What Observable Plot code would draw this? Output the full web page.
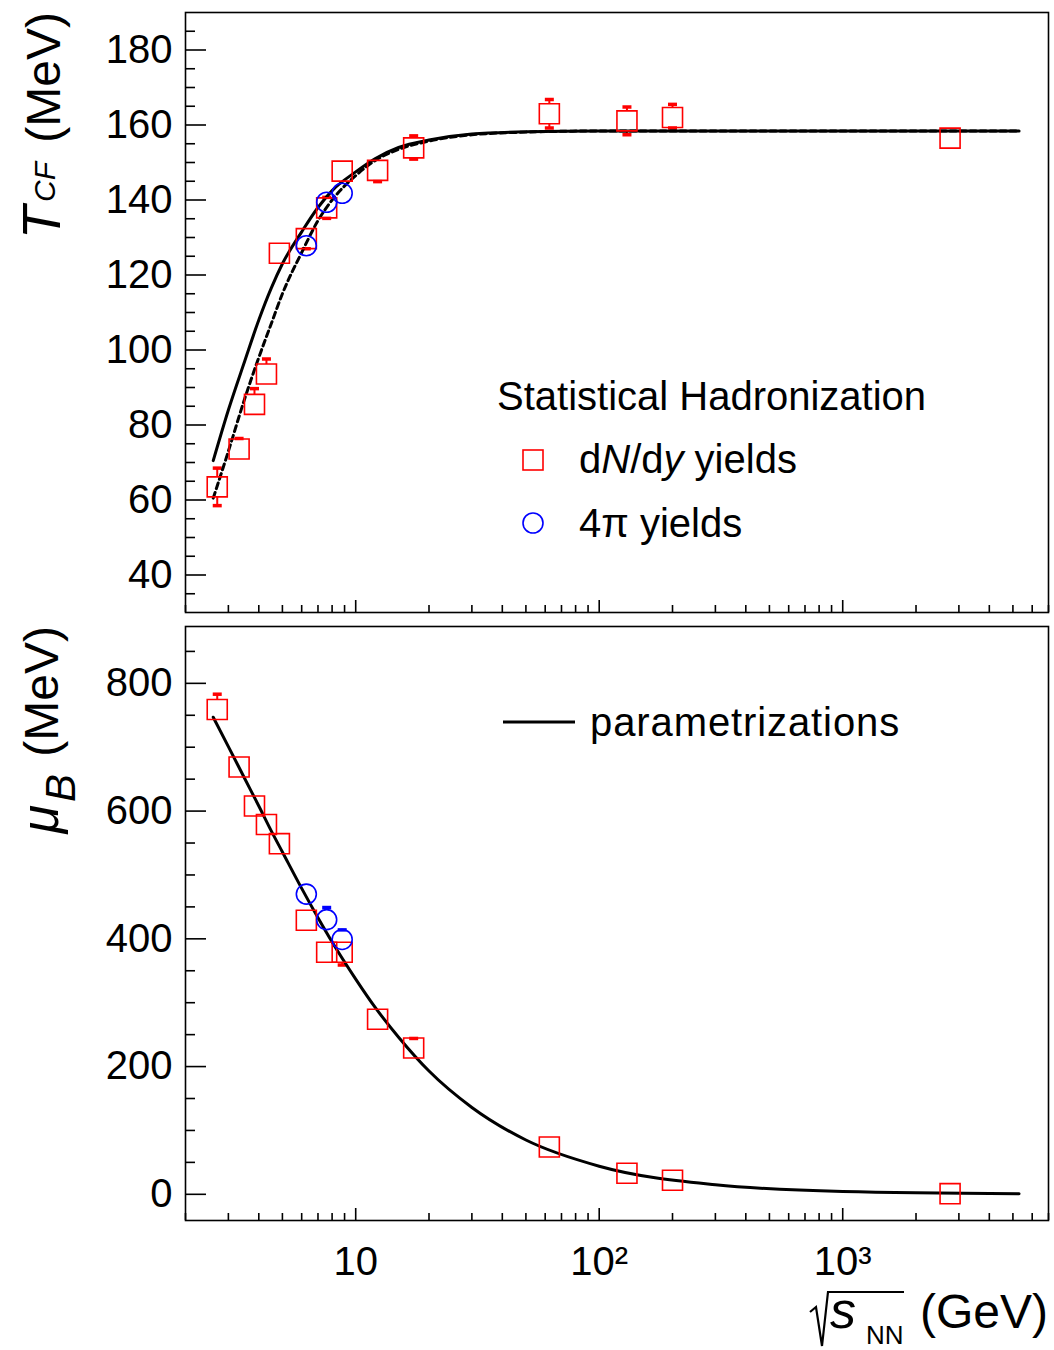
<!DOCTYPE html>
<html><head><meta charset="utf-8">
<script src="https://cdn.jsdelivr.net/npm/d3@7"></script>
<script src="https://cdn.jsdelivr.net/npm/@observablehq/plot@0.6"></script>
<style>
body{margin:0;background:#fff;}
#chart{position:relative;width:1054px;height:1350px;background:#fff;}
#chart svg{position:absolute;left:0;overflow:visible;}
</style></head><body><div id="chart"></div>
<script>
// ---------- data ----------
const sqrtsDNdy = [2.7, 3.32, 3.84, 4.3, 4.86, 6.27, 7.6, 8.8, 12.3, 17.3, 62.4, 130, 200, 2760];
const tDNdy     = [63.5, 73.6, 85.5, 93.6, 125.8, 129.7, 137.9, 147.7, 147.9, 153.9, 163, 161.1, 162, 156.5];
const tDNdyLo   = [5, 0, 0, 0, 0, 2.7, 2.8, 0, 3, 3, 3.8, 3.7, 2.8, 0];
const tDNdyHi   = [5, 2.8, 4.2, 4, 0, 0, 2.8, 0, 0, 3.2, 3.8, 3.7, 3.5, 0];
const muDNdy    = [759, 669, 608, 579, 549, 429, 379, 379, 274, 229, 74, 33, 22, 1];
const muDNdyLo  = [0, 0, 0, 0, 0, 0, 0, 20, 0, 0, 0, 0, 0, 0];
const muDNdyHi  = [24, 0, 0, 0, 0, 0, 0, 0, 0, 15, 0, 0, 0, 0];

const sqrts4pi = [6.27, 7.6, 8.8];
const t4pi     = [127.8, 139.4, 141.8];
const mu4pi    = [470, 430, 399];
const mu4piLo  = [0, 0, 0];
const mu4piHi  = [0, 19, 15];

// parametrization curves
const fitX    = [2.6, 3, 3.5, 4, 4.5, 5, 6, 7, 8, 10, 12, 15, 20, 30, 50, 100, 300, 1000, 5300];
const tSolid  = [70.5, 84, 97, 108, 116.5, 123, 131.5, 138, 142.5, 147.5, 151, 154, 156, 157.6, 158.2, 158.4, 158.4, 158.4, 158.4];
const tDashed = [60.5, 73, 87, 98, 107, 115, 126, 134.5, 140, 146.5, 150.5, 153.5, 155.7, 157.4, 158.1, 158.4, 158.4, 158.4, 158.4];
const muFit   = [747, 701, 651, 608, 569, 536, 479, 433, 395, 337, 293, 246, 193, 136, 85, 44, 15, 4.5, 0.9];

// axes
const xDomain = [2, 7000];
const xMajor = [10, 100, 1000];
const xTickLabels = ["10", "10\u00B2", "10\u00B3"];
const xMinor = [2,3,4,5,6,7,8,9,20,30,40,50,60,70,80,90,200,300,400,500,600,700,800,900,2000,3000,4000,5000,6000,7000];
const tDomain = [30, 190];
const tMajor = [40, 60, 80, 100, 120, 140, 160, 180];
const tMinor = [35, 45, 50, 55, 65, 70, 75, 85, 90, 95, 105, 110, 115, 125, 130, 135, 145, 150, 155, 165, 170, 175, 185];
const muDomain = [-41, 889];
const muMajor = [0, 200, 400, 600, 800];
const muMinor = [50, 100, 150, 250, 300, 350, 450, 500, 550, 650, 700, 750, 850];

// ---------- helpers ----------
const FONT = "'Liberation Sans', Arial, Helvetica, sans-serif";
const RED = "#ff0000", BLUE = "#0000ff";
const capSymbol = {draw(ctx) { ctx.rect(-4.5, -1.75, 9, 3.5); }};
const rows = (xs, ys, lo, hi) => xs.map((x, i) => ({x, y: ys[i], lo: lo ? lo[i] : 0, hi: hi ? hi[i] : 0}));
const bars = r => r.filter(d => d.lo > 0 || d.hi > 0).map(d => ({x: d.x, y1: d.y - d.lo, y2: d.y + d.hi}));
const caps = r => r.flatMap(d => [...(d.hi > 0 ? [{x: d.x, y: d.y + d.hi}] : []), ...(d.lo > 0 ? [{x: d.x, y: d.y - d.lo}] : [])]);
const xLabelMap = new Map(xMajor.map((v, i) => [v, xTickLabels[i]]));

function frameAxes(yMajor, yMinor, withXLabels) {
  return [
    Plot.axisY({ticks: yMajor, tickSize: 21, dx: 21, fill: "none", label: null, strokeWidth: 1.6}),
    Plot.axisY({ticks: yMinor, tickSize: 10, dx: 10, fill: "none", label: null, strokeWidth: 1.6}),
    Plot.axisY({ticks: yMajor, tickSize: 0, tickPadding: 13, stroke: "none", label: null, fontSize: 40}),
    Plot.axisX({ticks: xMajor, tickSize: 12, dy: -12, fill: "none", label: null, strokeWidth: 1.6}),
    Plot.axisX({ticks: xMinor, tickSize: 7, dy: -7, fill: "none", label: null, strokeWidth: 1.6}),
    withXLabels ? Plot.axisX({ticks: xMajor, tickSize: 0, tickPadding: 26, stroke: "none", label: null, fontSize: 40, tickFormat: d => xLabelMap.get(d)}) : null,
    Plot.frame({stroke: "black", strokeWidth: 1.6})
  ];
}

function dataMarks(sq, ci, curves) {
  return [
    Plot.ruleX(bars(sq), {x: "x", y1: "y1", y2: "y2", stroke: RED, strokeWidth: 2}),
    Plot.ruleX(bars(ci), {x: "x", y1: "y1", y2: "y2", stroke: BLUE, strokeWidth: 2}),
    Plot.dot(sq, {x: "x", y: "y", symbol: "square", r: 11.3, fill: "white", stroke: "none"}),
    Plot.dot(ci, {x: "x", y: "y", symbol: "circle", r: 10, fill: "white", stroke: "none"}),
    Plot.dot(caps(sq), {x: "x", y: "y", symbol: capSymbol, fill: RED, stroke: "none"}),
    Plot.dot(caps(ci), {x: "x", y: "y", symbol: capSymbol, fill: BLUE, stroke: "none"}),
    ...curves,
    Plot.dot(sq, {x: "x", y: "y", symbol: "square", r: 11.3, fill: "none", stroke: RED, strokeWidth: 1.6}),
    Plot.dot(ci, {x: "x", y: "y", symbol: "circle", r: 10, fill: "none", stroke: BLUE, strokeWidth: 1.6})
  ];
}

const style = {fontFamily: FONT, fontSize: "40px", background: "transparent", color: "black", overflow: "visible"};

// ---------- top panel ----------
const sqT = rows(sqrtsDNdy, tDNdy, tDNdyLo, tDNdyHi);
const ciT = rows(sqrts4pi, t4pi);
const solidT = fitX.map((x, i) => ({x, y: tSolid[i]}));
const dashedT = fitX.map((x, i) => ({x, y: tDashed[i]}));

const topPlot = Plot.plot({
  width: 1054, height: 619,
  marginLeft: 185, marginRight: 6, marginTop: 12, marginBottom: 7,
  style,
  x: {type: "log", domain: xDomain},
  y: {domain: tDomain},
  marks: [
    ...dataMarks(sqT, ciT, [
      Plot.line(dashedT, {x: "x", y: "y", stroke: "black", strokeWidth: 3, strokeDasharray: "6,4", curve: "monotone-x"}),
      Plot.line(solidT, {x: "x", y: "y", stroke: "black", strokeWidth: 3, curve: "monotone-x"})
    ]),
    ...frameAxes(tMajor, tMinor, false)
  ]
});
topPlot.style.top = "0px";

// ---------- bottom panel ----------
const sqM = rows(sqrtsDNdy, muDNdy, muDNdyLo, muDNdyHi);
const ciM = rows(sqrts4pi, mu4pi, mu4piLo, mu4piHi);
const fitM = fitX.map((x, i) => ({x, y: muFit[i]}));

const botPlot = Plot.plot({
  width: 1054, height: 731,
  marginLeft: 185, marginRight: 6, marginTop: 7, marginBottom: 130,
  style,
  x: {type: "log", domain: xDomain},
  y: {domain: muDomain},
  marks: [
    ...dataMarks(sqM, ciM, [
      Plot.line(fitM, {x: "x", y: "y", stroke: "black", strokeWidth: 3, curve: "monotone-x"})
    ]),
    ...frameAxes(muMajor, muMinor, true)
  ]
});
botPlot.style.top = "619px";

const chart = document.getElementById("chart");
chart.append(topPlot, botPlot);

// ---------- titles and legends ----------
const ov = d3.select(chart).append("svg")
  .attr("width", 1054).attr("height", 1350)
  .style("top", "0px").style("pointer-events", "none")
  .attr("font-family", FONT).attr("fill", "black");

// y title top
const yt1 = ov.append("text").attr("transform", "translate(60,12) rotate(-90)")
  .attr("text-anchor", "end").attr("font-size", 48);
yt1.append("tspan").attr("font-style", "italic").attr("font-size", 54).text("T");
yt1.append("tspan").attr("font-style", "italic").attr("font-size", 30).attr("dx", 4).attr("dy", -5).text("CF");
yt1.append("tspan").attr("dy", 5).attr("dx", 6).text(" (MeV)");

// y title bottom
const yt2 = ov.append("text").attr("transform", "translate(58,626) rotate(-90)")
  .attr("text-anchor", "end").attr("font-size", 48);
yt2.append("tspan").attr("font-style", "italic").attr("font-size", 52).text("\u03BC");
yt2.append("tspan").attr("font-style", "italic").attr("font-size", 42).attr("dx", 3).attr("dy", 17).text("B");
yt2.append("tspan").attr("dy", -17).attr("dx", 4).text(" (MeV)");

// x title
ov.append("path").attr("d", "M810,1312 L816,1307 L822,1346 L828,1292 L904,1292")
  .attr("fill", "none").attr("stroke", "black").attr("stroke-width", 2.2).attr("stroke-linejoin", "miter");
ov.append("text").attr("x", 830).attr("y", 1328).attr("font-size", 52).attr("font-style", "italic").text("s");
ov.append("text").attr("x", 866).attr("y", 1344).attr("font-size", 26).text("NN");
ov.append("text").attr("x", 1048).attr("y", 1328).attr("font-size", 48).attr("text-anchor", "end").text("(GeV)");

// top legend
ov.append("text").attr("x", 497).attr("y", 410).attr("font-size", 40).text("Statistical Hadronization");
ov.append("rect").attr("x", 523).attr("y", 450).attr("width", 20).attr("height", 20)
  .attr("fill", "none").attr("stroke", RED).attr("stroke-width", 1.6);
const l1 = ov.append("text").attr("x", 579).attr("y", 473).attr("font-size", 40);
l1.append("tspan").text("d");
l1.append("tspan").attr("font-style", "italic").text("N");
l1.append("tspan").text("/d");
l1.append("tspan").attr("font-style", "italic").text("y");
l1.append("tspan").text(" yields");
ov.append("circle").attr("cx", 533).attr("cy", 523).attr("r", 10)
  .attr("fill", "none").attr("stroke", BLUE).attr("stroke-width", 1.6);
ov.append("text").attr("x", 579).attr("y", 537).attr("font-size", 40).text("4\u03C0 yields");

// bottom legend
ov.append("line").attr("x1", 503).attr("x2", 575).attr("y1", 722).attr("y2", 722)
  .attr("stroke", "black").attr("stroke-width", 3);
ov.append("text").attr("x", 590).attr("y", 736).attr("font-size", 40).attr("letter-spacing", 0.9).text("parametrizations");
</script>
</body></html>
